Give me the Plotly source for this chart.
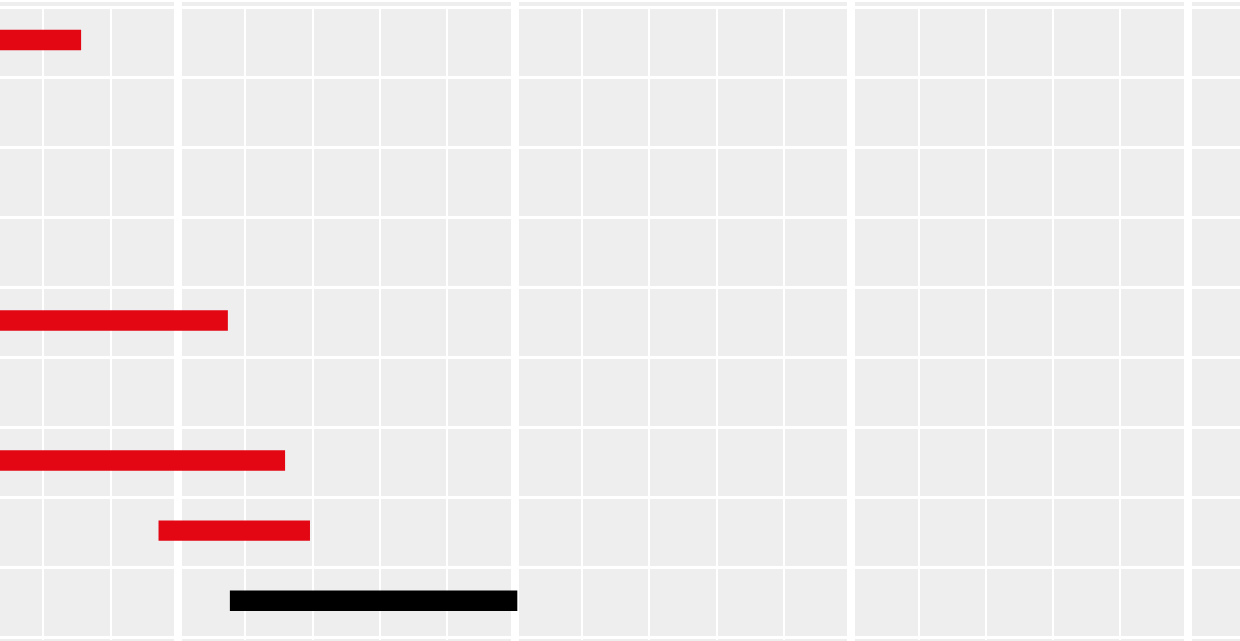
import plotly.graph_objects as go

# ---- data ----
rows = ["R1", "R2", "R3", "R4", "R5", "R6", "R7", "R8", "R9"]  # top to bottom
bar_rows = ["R1", "R5", "R7", "R8", "R9"]
bar_start = [2.0, 2.0, 2.0, 4.71, 5.77]
bar_end = [3.56, 5.74, 6.59, 6.96, 10.04]
bar_colors = ["#e30613", "#e30613", "#e30613", "#e30613", "#000000"]
x_range = [2.355, 20.776]

GRAY = "#eeeeee"

fig = go.Figure()

# empty trace to create the full-height subplot (major grid)
fig.add_trace(go.Scatter(x=[], y=[], xaxis="x", yaxis="y", showlegend=False))

fig.add_trace(go.Bar(
    y=bar_rows,
    base=bar_start,
    x=[e - s for s, e in zip(bar_start, bar_end)],
    orientation="h",
    marker=dict(color=bar_colors, line=dict(width=0)),
    width=0.292,
    offset=-0.114,
    xaxis="x2", yaxis="y2",
    hoverinfo="skip",
    showlegend=False,
))

axis_common = dict(showticklabels=False, zeroline=False, showline=False, ticks="")

fig.update_layout(
    width=1240, height=641,
    margin=dict(l=0, r=0, t=2, b=0, pad=0),
    paper_bgcolor=GRAY,
    plot_bgcolor="rgba(0,0,0,0)",
    showlegend=False,
    hovermode=False,
    xaxis=dict(domain=[0, 1], range=x_range, anchor="y", tick0=0, dtick=5,
               showgrid=True, gridcolor="white", gridwidth=8, **axis_common),
    yaxis=dict(domain=[0, 1], range=[0, 1], anchor="x", showgrid=False, **axis_common),
    xaxis2=dict(domain=[0, 1], range=x_range, anchor="y2", tick0=0, dtick=1,
                showgrid=True, gridcolor="white", gridwidth=2, **axis_common),
    yaxis2=dict(domain=[0.00086, 0.9939], anchor="x2", type="category",
                categoryorder="array", categoryarray=rows[::-1], range=[-0.535, 8.52],
                tickson="boundaries", showgrid=True, gridcolor="white", gridwidth=2.5,
                **axis_common),
    shapes=[dict(type="rect", xref="paper", yref="paper", x0=0, x1=1,
                 y0=1, y1=1.01, fillcolor="white", line=dict(width=0), layer="below")],
)

fig.write_html("out.html", config={"displayModeBar": False},
               post_script="document.body.style.margin='0';document.body.style.overflow='hidden';")
